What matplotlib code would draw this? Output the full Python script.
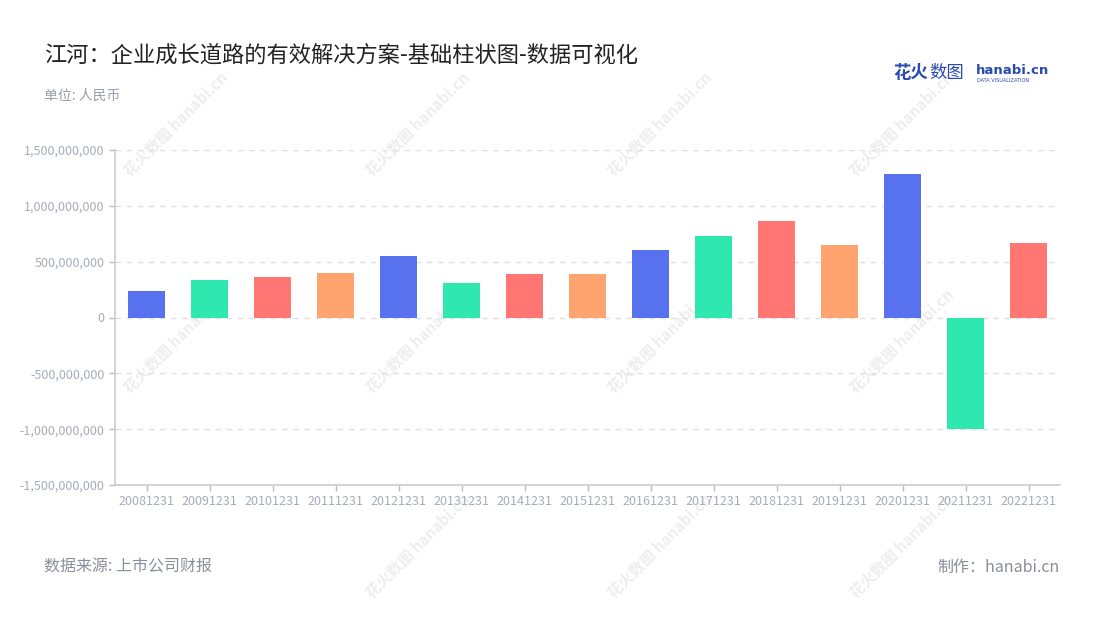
import numpy as np
import matplotlib.pyplot as plt
import matplotlib.ticker as mticker

plt.rcParams['font.family'] = ['Noto Sans CJK SC', 'DejaVu Sans']

# 数据
years = ["20081231", "20091231", "20101231", "20111231", "20121231", "20131231",
         "20141231", "20151231", "20161231", "20171231", "20181231", "20191231",
         "20201231", "20211231", "20221231"]
values = [240e6, 335e6, 362e6, 395e6, 555e6, 305e6, 388e6, 393e6,
          607e6, 732e6, 866e6, 652e6, 1289e6, -1000e6, 670e6]
palette = ["#5871EE", "#2EE8B0", "#FF7672", "#FFA36F"]
y_ticks = [-1.5e9, -1e9, -5e8, 0, 5e8, 1e9, 1.5e9]

fig = plt.figure(figsize=(11, 6.2), dpi=100)
ax = fig.add_axes([115 / 1100, 1 - 485 / 620, 945 / 1100, 335 / 620])
ax.patch.set_alpha(0)

x = np.arange(len(years))
colors = [palette[i % 4] for i in range(len(years))]
ax.bar(x, values, width=0.6, color=colors, zorder=3)

ax.set_xlim(-0.5, len(years) - 0.5)
ax.set_ylim(-1.5e9, 1.5e9)
ax.set_yticks(y_ticks)
ax.yaxis.set_major_formatter(mticker.FuncFormatter(lambda v, p: f"{int(v):,}"))
ax.set_xticks(x)
ax.set_xticklabels(years)

ax.grid(axis="y", linestyle=(0, (4, 4)), color="#e0e0e0", linewidth=1, zorder=0)
for s in ["top", "right"]:
    ax.spines[s].set_visible(False)
for s in ["left", "bottom"]:
    ax.spines[s].set_color("#cccccc")
    ax.spines[s].set_linewidth(1.2)
ax.tick_params(axis="both", colors="#bbbbbb", labelcolor="#a8acb8", labelsize=9,
               length=4, width=1)
ax.tick_params(axis="x", pad=3)

# 水印 (放在坐标轴后面)
for wx, wy in [(0.38, 0.80), (0.60, 0.80), (0.82, 0.80), (0.16, 0.80),
               (0.38, 0.45), (0.60, 0.45), (0.82, 0.45), (0.16, 0.45),
               (0.38, 0.12), (0.60, 0.12), (0.82, 0.12)]:
    fig.text(wx, wy, "花火数图 hanabi.cn", rotation=45, fontsize=11, color="#eeeeee",
             ha="center", va="center", fontweight="bold", zorder=-1)

# 文字
fig.text(44 / 1100, 1 - 55 / 620, "江河：企业成长道路的有效解决方案-基础柱状图-数据可视化",
         fontsize=16, color="#222222", va="center")
fig.text(44 / 1100, 1 - 96 / 620, "单位: 人民币", fontsize=10, color="#9a9eaa", va="center")
fig.text(44 / 1100, 1 - 567 / 620, "数据来源: 上市公司财报", fontsize=11.5, color="#8a8e99", va="center")
fig.text(1060 / 1100, 1 - 567 / 620, "制作：hanabi.cn", fontsize=11.5, color="#8a8e99",
         va="center", ha="right")

# logo
fig.text(893 / 1100, 1 - 73 / 620, "花火", fontsize=12.5, color="#2a4ab0",
         fontweight="bold", va="center")
fig.text(929 / 1100, 1 - 73 / 620, "数图", fontsize=12.5, color="#2a4ab0", va="center")
fig.text(976 / 1100, 1 - 70 / 620, "hanabi.cn", fontsize=9.5, color="#2a4ab0",
         fontweight="bold", va="center", family=["DejaVu Sans"])
fig.text(977 / 1100, 1 - 80 / 620, "DATA VISUALIZATION", fontsize=3.6, color="#2a4ab0",
         va="center", family=["DejaVu Sans"])

fig.savefig("out.png", dpi=100)
